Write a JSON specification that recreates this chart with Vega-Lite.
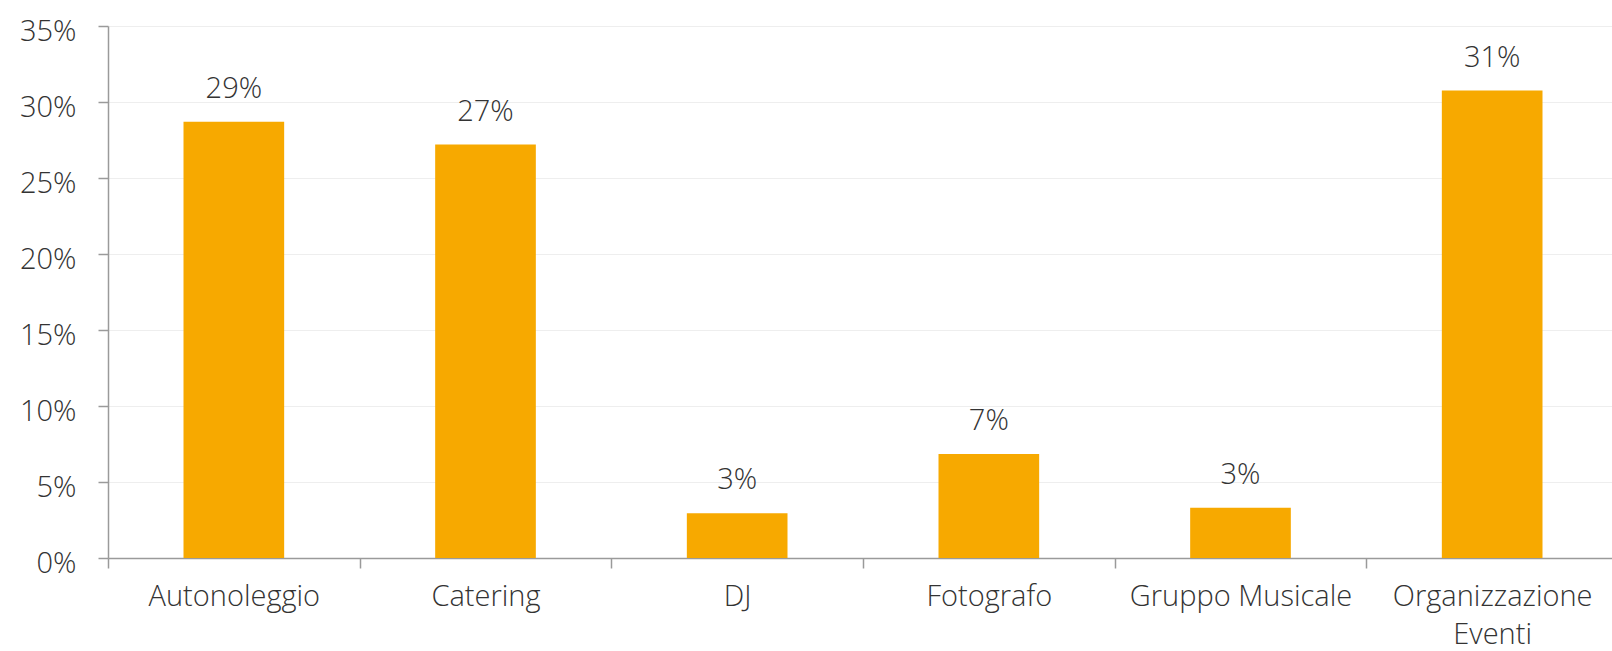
{
  "$schema": "https://vega.github.io/schema/vega-lite/v6.json",
  "autosize": {"type": "none"},
  "padding": {"left": 108, "top": 26, "right": 0, "bottom": 93},
  "width": 1510,
  "height": 532,
  "background": "white",
  "config": {
    "view": {"stroke": null},
    "font": "Open Sans",
    "axis": {
      "labelFont": "Open Sans",
      "labelFontSize": 29,
      "labelFontWeight": 300,
      "labelColor": "#333333",
      "domainColor": "#9a9a9a",
      "domainWidth": 1.5,
      "tickColor": "#9a9a9a",
      "tickWidth": 1.5,
      "tickSize": 10,
      "gridColor": "#eeeeee",
      "gridWidth": 1.2,
      "labelLimit": 400,
      "title": null
    }
  },
  "data": {
    "values": [
      {"categoria": "Autonoleggio", "quota": 0.287},
      {"categoria": "Catering", "quota": 0.272},
      {"categoria": "DJ", "quota": 0.0295},
      {"categoria": "Fotografo", "quota": 0.0685},
      {"categoria": "Gruppo Musicale", "quota": 0.033},
      {"categoria": "Organizzazione Eventi", "quota": 0.3075}
    ]
  },
  "encoding": {
    "x": {
      "field": "categoria",
      "type": "nominal",
      "sort": null,
      "scale": {"paddingInner": 0, "paddingOuter": 0},
      "axis": {
        "labelAngle": 0,
        "tickBand": "extent",
        "grid": false,
        "labelPadding": 14,
        "labelLineHeight": 38,
        "labelBaseline": "top",
        "labelExpr": "datum.label == 'Organizzazione Eventi' ? ['Organizzazione', 'Eventi'] : datum.label"
      }
    },
    "y": {
      "field": "quota",
      "type": "quantitative",
      "scale": {"domain": [0, 0.35], "nice": false},
      "axis": {
        "values": [0, 0.05, 0.1, 0.15, 0.2, 0.25, 0.3, 0.35],
        "format": ".0%",
        "grid": true,
        "labelPadding": 22,
        "labelOffset": 5
      }
    }
  },
  "layer": [
    {"mark": {"type": "bar", "color": "#F7A900", "width": {"band": 0.4}}},
    {
      "mark": {"type": "text", "baseline": "alphabetic", "dy": -24, "fontSize": 29, "fontWeight": 300, "color": "#333333", "font": "Open Sans"},
      "encoding": {"text": {"field": "quota", "type": "quantitative", "format": ".0%"}}
    }
  ]
}
